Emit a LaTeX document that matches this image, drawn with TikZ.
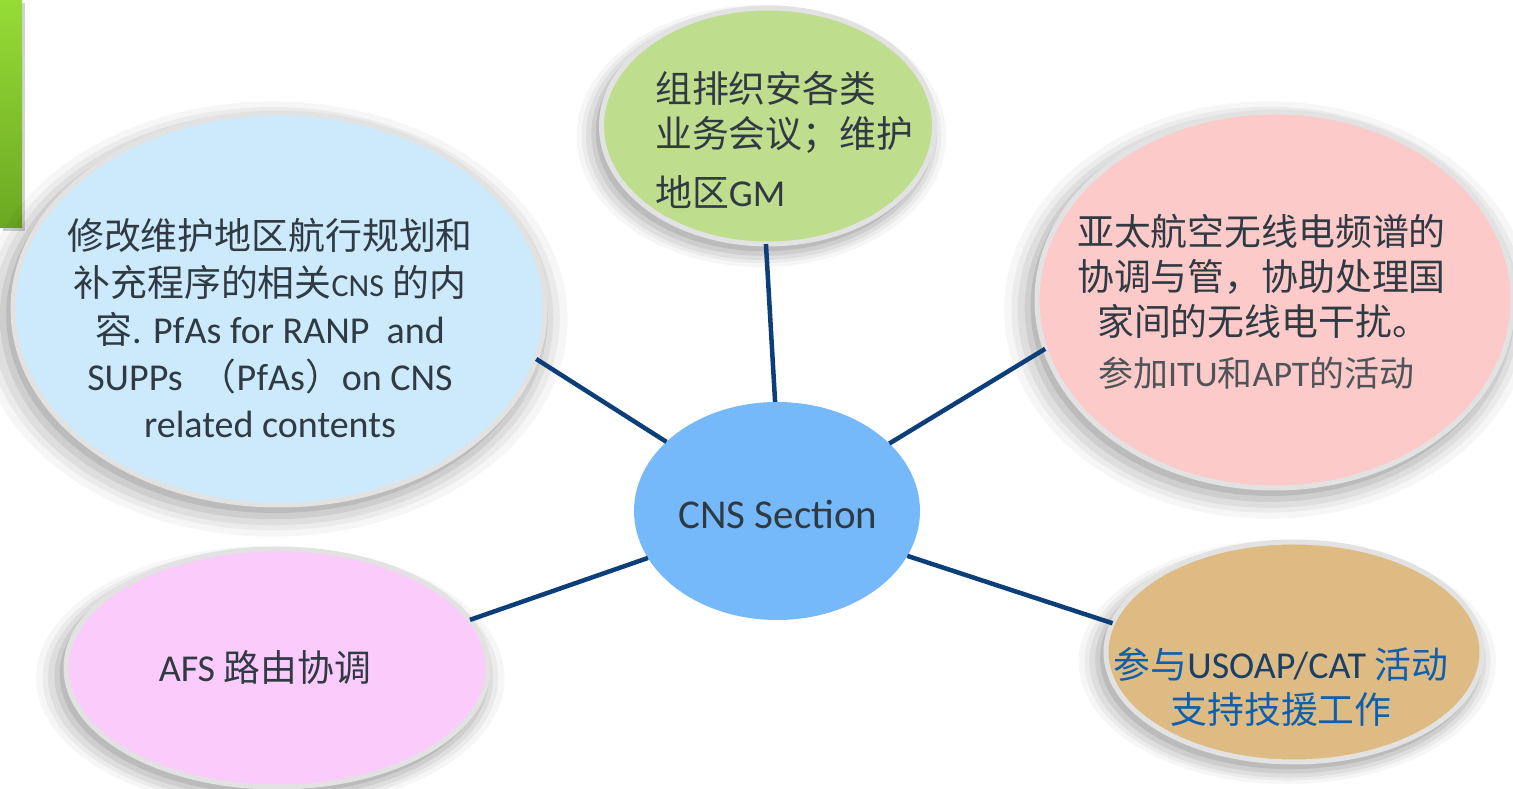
\documentclass[tikz,border=0pt]{standalone}
\usepackage{fontspec}
\setmainfont{Carlito}
\newfontfamily\zhfont[Scale=0.97]{Noto Sans CJK SC}
\usetikzlibrary{shapes.geometric,shadows}

\definecolor{inkgray}{HTML}{2F3A43}
\definecolor{softgray}{HTML}{4F5459}
\definecolor{rimgray}{HTML}{E2E2E2}
\definecolor{linkblue}{HTML}{0C3E7A}
\definecolor{cnsblue}{HTML}{75B9FB}
\definecolor{meetgreen}{HTML}{BEDD8D}
\definecolor{ranpblue}{HTML}{CCEAFB}
\definecolor{itupink}{HTML}{FDCACA}
\definecolor{usoaptan}{HTML}{DFBB84}
\definecolor{afspink}{HTML}{FBCBFC}
\definecolor{zhblue}{HTML}{0F5FAD}
\definecolor{navyink}{HTML}{1B3F66}
\definecolor{tabtop}{HTML}{96DC36}
\definecolor{tabbottom}{HTML}{6BA822}

\tikzset{
  bubble/.style={ellipse, inner sep=0pt, outer sep=0pt, draw=rimgray, line width=5pt},
  halo/.style={
    drop shadow={shadow xshift=-6pt, shadow yshift=-9pt, shadow scale=1.11, opacity=.035, fill=black},
    drop shadow={shadow xshift=-6pt, shadow yshift=-9pt, shadow scale=1.08, opacity=.045, fill=black},
    drop shadow={shadow xshift=-6pt, shadow yshift=-9pt, shadow scale=1.055, opacity=.055, fill=black},
    drop shadow={shadow xshift=-5pt, shadow yshift=-8pt, shadow scale=1.03, opacity=.07, fill=black},
    drop shadow={shadow xshift=-4pt, shadow yshift=-6pt, shadow scale=1.01, opacity=.09, fill=black}},
  link/.style={draw=linkblue, line width=4.5pt},
  txt/.style={text=inkgray, inner sep=0pt, font=\fontsize{38}{47}\selectfont},
}

\begin{document}
\begin{tikzpicture}[x=1pt,y=1pt]
  \fill[white] (0,0) rectangle (1513,789);
  \useasboundingbox (0,0) rectangle (1513,789);

  % green tab in the corner
  \shade[top color=tabtop, bottom color=tabbottom,
    drop shadow={shadow xshift=3pt, shadow yshift=-3pt, opacity=.35}]
    (0,561) rectangle (22,789);

  % the bubbles
  \node[bubble, halo, fill=ranpblue, minimum width=532, minimum height=392] (ranp) at (279,480) {};
  \node[bubble, halo, fill=meetgreen, minimum width=333, minimum height=236] (meet) at (768,663) {};
  \node[bubble, halo, fill=itupink, minimum width=476, minimum height=376] (itu) at (1275,489) {};
  \node[bubble, halo, fill=afspink, minimum width=422, minimum height=238] (afs) at (277,121) {};
  \node[bubble, halo, fill=usoaptan, minimum width=376, minimum height=220] (usoap) at (1294,137) {};
  \node[ellipse, inner sep=0pt, outer sep=0pt, fill=cnsblue,
    minimum width=286, minimum height=218] (cns) at (777,278) {};

  % links to the hub
  \draw[link] (cns.91) -- (meet.269);
  \draw[link] (cns.148) -- (ranp.349);
  \draw[link] (cns.31) -- (itu.192);
  \draw[link] (cns.200) -- (afs.14);
  \draw[link] (cns.341) -- (usoap.171);

  % texts
  \node[txt, font=\fontsize{41}{47}\selectfont] (cnsText) at (778,275) {CNS Section};
  \node[txt, align=center] (ranpText) at (270,461) {%
    {\zhfont 修改维护地区航行规划和}\\
    {\zhfont 补充程序的相关}{\fontsize{32}{47}\selectfont CNS} {\zhfont 的内}\\
    {\zhfont 容}. PfAs for RANP\ \ and\\
    SUPPs\ \ {\zhfont （}PfAs{\zhfont ）}on CNS\\
    related contents};
  \node[txt, align=left, anchor=west] (meetText) at (655,649) {%
    {\zhfont 组排织安各类}\\[-2pt]
    {\zhfont 业务会议；维护}\\[12pt]
    {\zhfont 地区}GM};
  \node[txt, align=left, anchor=west] (ituText) at (1077,487) {%
    {\zhfont 亚太航空无线电频谱的}\\[-2pt]
    {\zhfont 协调与管，协助处理国}\\[-2pt]
    \hspace*{20pt}{\zhfont 家间的无线电干扰。}\\[4pt]
    \hspace*{21pt}{\color{softgray}\fontsize{36}{40}\selectfont
      {\zhfont 参加}ITU{\zhfont 和}APT{\zhfont 的活动}}};
  \node[txt, align=center, text=zhblue] (usoapText) at (1281,102) {%
    {\zhfont 参与}{\color{navyink}USOAP/CAT} {\zhfont 活动}\\[-2pt]
    {\zhfont 支持技援工作}};
  \node[txt] (afsText) at (265,122) {AFS {\zhfont 路由协调}};
\end{tikzpicture}
\end{document}
